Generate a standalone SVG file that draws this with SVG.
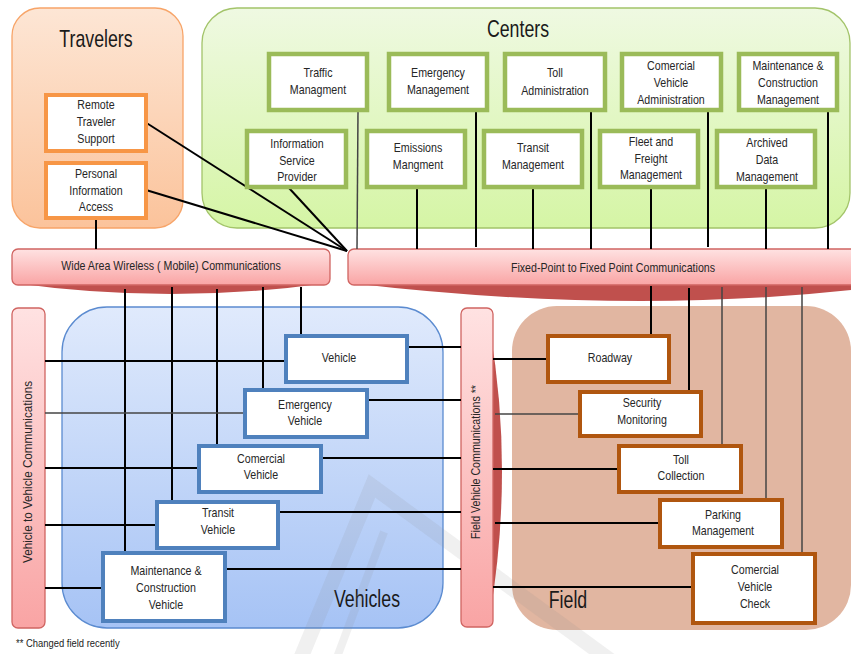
<svg xmlns="http://www.w3.org/2000/svg" width="851" height="654" viewBox="0 0 851 654">
<style>
.t{font-family:"Liberation Sans Narrow","Liberation Sans",Arial,sans-serif;font-size:13px;fill:#262626;text-anchor:middle}
.title{font-family:"Liberation Sans Narrow","Liberation Sans",Arial,sans-serif;font-size:24px;fill:#1a1a1a;text-anchor:middle}
.ob{fill:#fff;stroke:#f79646;stroke-width:4}
.gb{fill:#fff;stroke:#9bbb59;stroke-width:4.5}
.bb{fill:#fff;stroke:#4f81bd;stroke-width:4}
.fb{fill:#fff;stroke:#b0560f;stroke-width:4}
.bar{fill:url(#pink);stroke:#d06461;stroke-width:1.3}
.cres{fill:#c0504d}
.c{stroke:#000;stroke-width:2;fill:none}
.cg{stroke:#444;stroke-width:1.5;fill:none}
.wm{fill:none;stroke:#8a8a8a;stroke-opacity:0.13;stroke-linejoin:miter}
</style>
<defs>
<linearGradient id="orange" x1="0" y1="0" x2="0" y2="1"><stop offset="0" stop-color="#fde6d5"/><stop offset="1" stop-color="#fbc39b"/></linearGradient>
<linearGradient id="green" x1="0" y1="0" x2="0" y2="1"><stop offset="0" stop-color="#eff9e2"/><stop offset="1" stop-color="#d5f5a5"/></linearGradient>
<linearGradient id="blue" x1="0" y1="0" x2="0" y2="1"><stop offset="0" stop-color="#e0eafc"/><stop offset="1" stop-color="#a6c3f5"/></linearGradient>
<linearGradient id="pink" x1="0" y1="0" x2="0" y2="1"><stop offset="0" stop-color="#ffe2e2"/><stop offset="1" stop-color="#f9a4a4"/></linearGradient>
</defs>
<rect width="851" height="654" fill="#fff"/>

<!-- Panels -->
<g id="travelers">
<rect x="12" y="8" width="171" height="220" rx="28" fill="url(#orange)" stroke="#f7a468" stroke-width="1.3"/>
<text class="title" x="96" y="47" transform="matrix(0.74,0,0,1,24.96,0)">Travelers</text>
</g>
<g id="centers">
<rect x="202" y="8" width="648" height="220" rx="35" fill="url(#green)" stroke="#a3c46a" stroke-width="1.3"/>
<text class="title" x="518" y="37" transform="matrix(0.74,0,0,1,134.68,0)">Centers</text>
</g>
<g id="vehicles">
<rect x="62" y="307" width="381" height="321" rx="45" fill="url(#blue)" stroke="#5b8bd0" stroke-width="1.3"/>
<text class="title" x="367" y="607" transform="matrix(0.74,0,0,1,95.42,0)">Vehicles</text>
</g>
<g id="field">
<rect x="512" y="306" width="339" height="324" rx="45" fill="#e1b6a1"/>
<text class="title" x="568" y="608" transform="matrix(0.74,0,0,1,147.68,0)">Field</text>
</g>

<!-- faint background watermark -->
<g id="watermark">
<path class="wm" d="M300,660 L372,486 L610,660" stroke-width="15"/>
<path class="wm" d="M384,532 L336,660" stroke-width="8"/>
</g>

<!-- Communication bars -->
<g id="wide-area">
<path class="cres" d="M14,283 L328,283 Q171,305 14,283 Z"/>
<rect class="bar" x="12" y="249" width="318" height="36" rx="6"/>
<text class="t" x="171" y="270" transform="matrix(0.82,0,0,1,30.78,0)">Wide Area Wireless ( Mobile) Communications</text>
</g>
<g id="fixed-point">
<path class="cres" d="M350,283 L851,283 L851,290 Q620,315 350,283 Z"/>
<rect class="bar" x="348" y="249" width="510" height="36" rx="6"/>
<text class="t" x="613" y="272" transform="matrix(0.82,0,0,1,110.34,0)">Fixed-Point to Fixed Point Communications</text>
</g>
<g id="v2v">
<rect x="12" y="308" width="33" height="320" rx="6" fill="url(#pink)" stroke="#d06461" stroke-width="1.3"/>
<text class="t" transform="translate(32,472) rotate(-90) scale(0.9,1)">Vehicle to Vehicle Communications</text>
</g>
<g id="field-vehicle">
<path class="cres" d="M490,330 Q514,470 490,615 Z"/>
<rect x="461" y="308" width="32" height="319" rx="6" fill="url(#pink)" stroke="#d06461" stroke-width="1.3"/>
<text class="t" transform="translate(480,462) rotate(-90) scale(0.82,1)">Field Vehicle Communications **</text>
</g>

<!-- Connectors -->
<g id="connectors">
<line class="c" x1="96" y1="217" x2="96" y2="249"/>
<line class="c" x1="145" y1="122" x2="347" y2="251" stroke-width="1.5"/>
<line class="c" x1="146" y1="190" x2="347" y2="251" stroke-width="1.5"/>
<line class="c" x1="289" y1="188" x2="347" y2="251" stroke-width="1.5"/>
<line class="cg" x1="358" y1="111" x2="357" y2="249"/>
<line class="c" x1="417" y1="188" x2="417" y2="249"/>
<line class="c" x1="476" y1="111" x2="476" y2="247"/>
<line class="c" x1="533" y1="188" x2="533" y2="249"/>
<line class="c" x1="591" y1="111" x2="591" y2="249"/>
<line class="c" x1="651" y1="188" x2="651" y2="249"/>
<line class="c" x1="708" y1="111" x2="708" y2="247"/>
<line class="c" x1="766" y1="188" x2="766" y2="249"/>
<line class="c" x1="828" y1="111" x2="828" y2="249"/>
<line class="c" x1="125" y1="289" x2="125" y2="552"/>
<line class="c" x1="172" y1="287" x2="172" y2="501"/>
<line class="c" x1="217" y1="289" x2="217" y2="445"/>
<line class="c" x1="263" y1="287" x2="263" y2="389"/>
<line class="c" x1="301" y1="287" x2="301" y2="335"/>
<line class="c" x1="45" y1="361" x2="285" y2="361"/>
<line class="cg" x1="45" y1="413" x2="244" y2="413"/>
<line class="c" x1="45" y1="468" x2="198" y2="468"/>
<line class="c" x1="45" y1="525" x2="156" y2="525"/>
<line class="c" x1="45" y1="588" x2="102" y2="588"/>
<line class="c" x1="408" y1="347" x2="461" y2="347"/>
<line class="c" x1="368" y1="400" x2="461" y2="400"/>
<line class="c" x1="322" y1="458" x2="461" y2="458"/>
<line class="c" x1="279" y1="512" x2="461" y2="512"/>
<line class="c" x1="226" y1="569" x2="461" y2="569"/>
<line class="c" x1="493" y1="359" x2="547" y2="359"/>
<line class="cg" x1="495" y1="414" x2="579" y2="414"/>
<line class="c" x1="493" y1="469" x2="618" y2="469"/>
<line class="c" x1="495" y1="523" x2="659" y2="523"/>
<line class="c" x1="493" y1="587" x2="692" y2="587"/>
<line class="c" x1="651" y1="286" x2="651" y2="335"/>
<line class="c" x1="689" y1="288" x2="689" y2="391"/>
<line class="cg" x1="722" y1="287" x2="722" y2="445"/>
<line class="cg" x1="766" y1="287" x2="766" y2="499"/>
<line class="cg" x1="802" y1="287" x2="802" y2="553"/>
</g>

<!-- Traveler nodes -->
<g id="remote-traveler-support">
<rect class="ob" x="46" y="95" width="100" height="56"/>
<g transform="matrix(0.82,0,0,1,17.28,0)"><text class="t" x="96" y="109">Remote</text><text class="t" x="96" y="126">Traveler</text><text class="t" x="96" y="143">Support</text></g>
</g>
<g id="personal-information-access">
<rect class="ob" x="46" y="163" width="100" height="55"/>
<g transform="matrix(0.82,0,0,1,17.28,0)"><text class="t" x="96" y="178">Personal</text><text class="t" x="96" y="195">Information</text><text class="t" x="96" y="211">Access</text></g>
</g>

<!-- Center nodes -->
<g id="traffic-management">
<rect class="gb" x="269" y="54" width="98" height="56"/>
<g transform="matrix(0.82,0,0,1,57.24,0)"><text class="t" x="318" y="77">Traffic</text><text class="t" x="318" y="94">Managment</text></g>
</g>
<g id="emergency-management">
<rect class="gb" x="389" y="54" width="98" height="56"/>
<g transform="matrix(0.82,0,0,1,78.84,0)"><text class="t" x="438" y="77">Emergency</text><text class="t" x="438" y="94">Management</text></g>
</g>
<g id="toll-administration">
<rect class="gb" x="505" y="54" width="100" height="56"/>
<g transform="matrix(0.82,0,0,1,99.9,0)"><text class="t" x="555" y="77">Toll</text><text class="t" x="555" y="95">Administration</text></g>
</g>
<g id="comercial-vehicle-administration">
<rect class="gb" x="622" y="54" width="99" height="56"/>
<g transform="matrix(0.82,0,0,1,120.78,0)"><text class="t" x="671" y="70">Comercial</text><text class="t" x="671" y="87">Vehicle</text><text class="t" x="671" y="104">Administration</text></g>
</g>
<g id="maintenance-construction-management">
<rect class="gb" x="739" y="54" width="98" height="56"/>
<g transform="matrix(0.82,0,0,1,141.84,0)"><text class="t" x="788" y="70">Maintenance &amp;</text><text class="t" x="788" y="87">Construction</text><text class="t" x="788" y="104">Management</text></g>
</g>
<g id="information-service-provider">
<rect class="gb" x="247" y="131" width="99" height="56"/>
<g transform="matrix(0.82,0,0,1,53.46,0)"><text class="t" x="297" y="148">Information</text><text class="t" x="297" y="165">Service</text><text class="t" x="297" y="181">Provider</text></g>
</g>
<g id="emissions-management">
<rect class="gb" x="367" y="131" width="98" height="56"/>
<g transform="matrix(0.82,0,0,1,75.24,0)"><text class="t" x="418" y="152">Emissions</text><text class="t" x="418" y="169">Mangment</text></g>
</g>
<g id="transit-management">
<rect class="gb" x="484" y="131" width="98" height="56"/>
<g transform="matrix(0.82,0,0,1,95.94,0)"><text class="t" x="533" y="152">Transit</text><text class="t" x="533" y="169">Management</text></g>
</g>
<g id="fleet-freight-management">
<rect class="gb" x="600" y="131" width="98" height="56"/>
<g transform="matrix(0.82,0,0,1,117.18,0)"><text class="t" x="651" y="146">Fleet and</text><text class="t" x="651" y="163">Freight</text><text class="t" x="651" y="179">Management</text></g>
</g>
<g id="archived-data-management">
<rect class="gb" x="717" y="131" width="98" height="56"/>
<g transform="matrix(0.82,0,0,1,138.06,0)"><text class="t" x="767" y="147">Archived</text><text class="t" x="767" y="164">Data</text><text class="t" x="767" y="181">Management</text></g>
</g>

<!-- Vehicle nodes -->
<g id="vehicle">
<rect class="bb" x="286" y="336" width="121" height="46"/>
<g transform="matrix(0.82,0,0,1,61.02,0)"><text class="t" x="339" y="362">Vehicle</text></g>
</g>
<g id="emergency-vehicle">
<rect class="bb" x="245" y="390" width="122" height="47"/>
<g transform="matrix(0.82,0,0,1,54.9,0)"><text class="t" x="305" y="409">Emergency</text><text class="t" x="305" y="425">Vehicle</text></g>
</g>
<g id="comercial-vehicle">
<rect class="bb" x="199" y="446" width="122" height="46"/>
<g transform="matrix(0.82,0,0,1,46.98,0)"><text class="t" x="261" y="463">Comercial</text><text class="t" x="261" y="479">Vehicle</text></g>
</g>
<g id="transit-vehicle">
<rect class="bb" x="157" y="502" width="121" height="46"/>
<g transform="matrix(0.82,0,0,1,39.24,0)"><text class="t" x="218" y="517">Transit</text><text class="t" x="218" y="534">Vehicle</text></g>
</g>
<g id="maintenance-construction-vehicle">
<rect class="bb" x="103" y="553" width="122" height="68"/>
<g transform="matrix(0.82,0,0,1,29.88,0)"><text class="t" x="166" y="575">Maintenance &amp;</text><text class="t" x="166" y="592">Construction</text><text class="t" x="166" y="609">Vehicle</text></g>
</g>

<!-- Field nodes -->
<g id="roadway">
<rect class="fb" x="548" y="336" width="121" height="46"/>
<g transform="matrix(0.82,0,0,1,109.8,0)"><text class="t" x="610" y="362">Roadway</text></g>
</g>
<g id="security-monitoring">
<rect class="fb" x="580" y="392" width="121" height="44"/>
<g transform="matrix(0.82,0,0,1,115.56,0)"><text class="t" x="642" y="407">Security</text><text class="t" x="642" y="424">Monitoring</text></g>
</g>
<g id="toll-collection">
<rect class="fb" x="619" y="446" width="122" height="46"/>
<g transform="matrix(0.82,0,0,1,122.58,0)"><text class="t" x="681" y="464">Toll</text><text class="t" x="681" y="480">Collection</text></g>
</g>
<g id="parking-management">
<rect class="fb" x="660" y="500" width="122" height="47"/>
<g transform="matrix(0.82,0,0,1,130.14,0)"><text class="t" x="723" y="519">Parking</text><text class="t" x="723" y="535">Management</text></g>
</g>
<g id="comercial-vehicle-check">
<rect class="fb" x="693" y="554" width="122" height="69"/>
<g transform="matrix(0.82,0,0,1,135.9,0)"><text class="t" x="755" y="574">Comercial</text><text class="t" x="755" y="591">Vehicle</text><text class="t" x="755" y="608">Check</text></g>
</g>

<text x="16" y="647" transform="matrix(0.82,0,0,1,2.88,0)" style="font-family:'Liberation Sans Narrow','Liberation Sans',Arial,sans-serif;font-size:11.5px;fill:#222">** Changed field recently</text>
</svg>
